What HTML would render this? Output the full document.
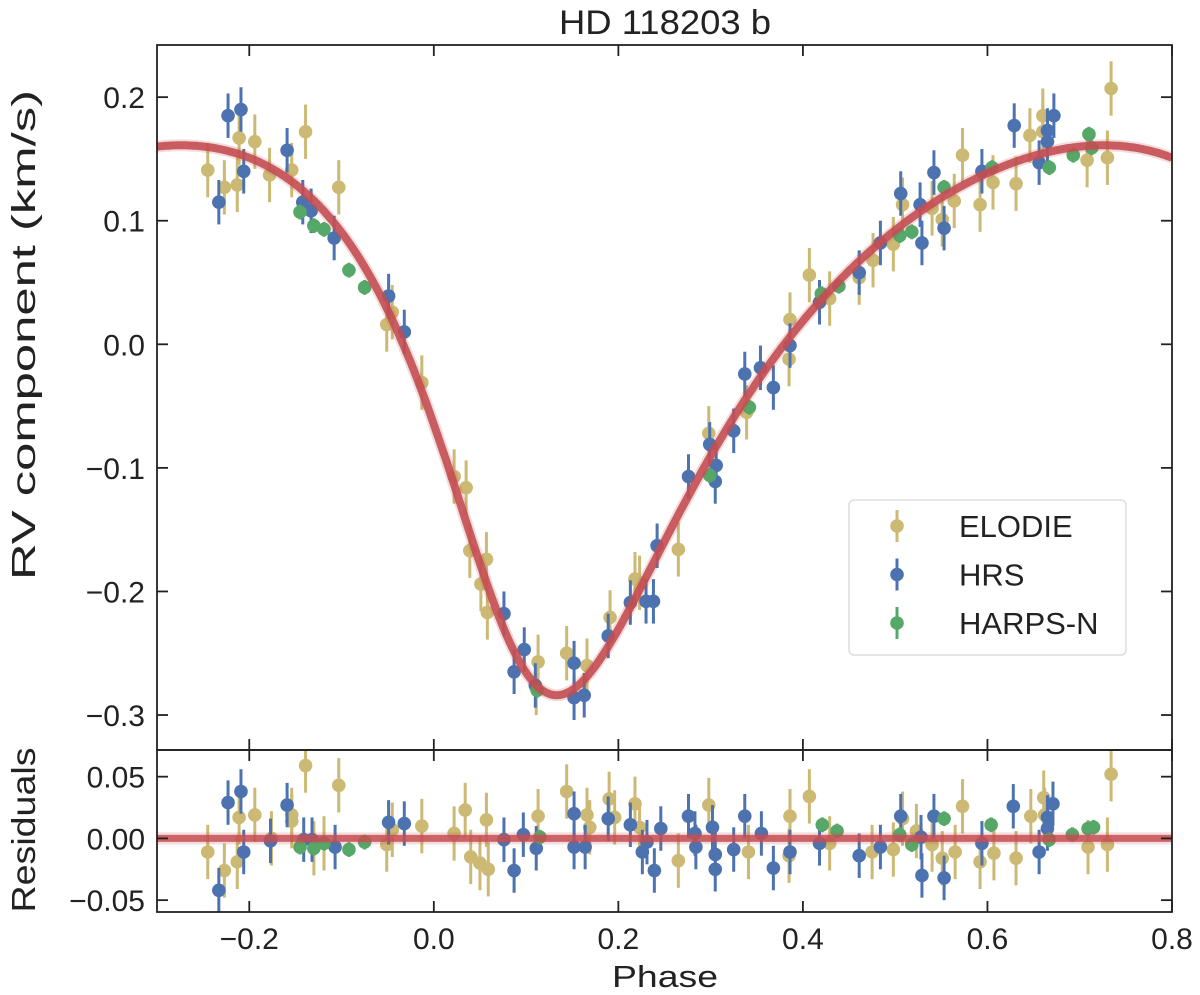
<!DOCTYPE html>
<html><head><meta charset="utf-8"><style>
body{margin:0;background:#fff}
svg{display:block;font-family:"Liberation Sans",sans-serif}
</style></head><body>
<svg id="chart" width="1200" height="995" xmlns="http://www.w3.org/2000/svg">
<defs>
<clipPath id="clipMain"><rect x="157" y="45" width="1015" height="705"/></clipPath>
<clipPath id="clipRes"><rect x="157" y="750" width="1015" height="162"/></clipPath>
</defs>
<text x="665" y="34" font-size="34" text-anchor="middle" fill="#222" textLength="212" lengthAdjust="spacingAndGlyphs">HD 118203 b</text>
<text transform="translate(35,335) rotate(-90)" font-size="33" text-anchor="middle" fill="#222" textLength="490" lengthAdjust="spacingAndGlyphs">RV component (km/s)</text>
<text transform="translate(35,830) rotate(-90)" font-size="33" text-anchor="middle" fill="#222" textLength="165" lengthAdjust="spacingAndGlyphs">Residuals</text>
<text x="665" y="987" font-size="31" text-anchor="middle" fill="#222" textLength="106" lengthAdjust="spacingAndGlyphs">Phase</text>
<g id="gMain" clip-path="url(#clipMain)"></g>
<g id="gRes" clip-path="url(#clipRes)"></g>
<g id="gAxes"></g>
<g id="gLegend"></g>
</svg>
<script>
// ---- data ----
const xTicks = [-0.2, 0.0, 0.2, 0.4, 0.6, 0.8];
const xTickLabels = ["\u22120.2", "0.0", "0.2", "0.4", "0.6", "0.8"];
const yTicks = [0.2, 0.1, 0.0, -0.1, -0.2, -0.3];
const yTickLabels = ["0.2", "0.1", "0.0", "\u22120.1", "\u22120.2", "\u22120.3"];
const resTicks = [0.05, 0.0, -0.05];
const resTickLabels = ["0.05", "0.00", "\u22120.05"];
const seriesNames = ["ELODIE", "HRS", "HARPS-N"];
const seriesErr = [0.022, 0.018, 0.006];

const elodiePhase = [-0.245,-0.227,-0.213,-0.211,-0.194,-0.178,-0.154,-0.139,-0.103,-0.051,-0.045,-0.013,0.022,0.035,0.039,0.051,0.057,0.058,0.113,0.111,0.144,0.166,0.191,0.218,0.223,0.265,0.298,0.339,0.386,0.385,0.407,0.429,0.461,0.476,0.498,0.508,0.540,0.551,0.564,0.573,0.592,0.606,0.631,0.646,0.660,0.660,0.708,0.730,0.734];
const elodieRV = [0.141,0.127,0.129,0.167,0.164,0.137,0.141,0.172,0.127,0.016,0.026,-0.031,-0.107,-0.116,-0.167,-0.194,-0.174,-0.217,-0.257,-0.278,-0.250,-0.260,-0.221,-0.190,-0.193,-0.166,-0.072,-0.055,0.020,-0.012,0.056,0.037,0.054,0.068,0.081,0.113,0.110,0.101,0.116,0.153,0.113,0.131,0.130,0.169,0.185,0.172,0.149,0.151,0.207];
const hrsPhase = [-0.233,-0.223,-0.209,-0.206,-0.159,-0.142,-0.133,-0.108,-0.049,-0.032,0.076,0.087,0.098,0.110,0.152,0.152,0.163,0.189,0.213,0.230,0.238,0.242,0.276,0.299,0.306,0.305,0.325,0.337,0.354,0.368,0.386,0.418,0.461,0.484,0.506,0.527,0.529,0.542,0.553,0.594,0.629,0.656,0.665,0.665,0.672];
const hrsRV = [0.115,0.185,0.190,0.140,0.157,0.115,0.108,0.086,0.039,0.010,-0.218,-0.265,-0.247,-0.276,-0.258,-0.286,-0.284,-0.236,-0.209,-0.208,-0.208,-0.163,-0.107,-0.081,-0.098,-0.111,-0.070,-0.024,-0.019,-0.035,-0.001,0.034,0.058,0.082,0.122,0.113,0.082,0.139,0.094,0.140,0.177,0.147,0.164,0.173,0.185];
const harpsPhase = [-0.145,-0.130,-0.119,-0.092,-0.075,0.112,0.299,0.342,0.420,0.439,0.505,0.518,0.553,0.605,0.667,0.693,0.710,0.713];
const harpsRV = [0.107,0.096,0.093,0.060,0.046,-0.280,-0.106,-0.051,0.041,0.047,0.088,0.091,0.127,0.143,0.143,0.153,0.170,0.159];

const elodieResPhase = [-0.245,-0.227,-0.213,-0.211,-0.194,-0.176,-0.154,-0.154,-0.139,-0.130,-0.119,-0.103,-0.051,-0.045,-0.013,0.022,0.034,0.040,0.050,0.057,0.059,0.113,0.144,0.166,0.169,0.190,0.196,0.218,0.223,0.265,0.298,0.341,0.386,0.385,0.407,0.429,0.475,0.498,0.508,0.523,0.540,0.551,0.565,0.573,0.592,0.607,0.631,0.647,0.661,0.662,0.709,0.730,0.734];
const elodieRes = [-0.011,-0.026,-0.019,0.017,0.019,0.0,0.019,0.014,0.059,-0.008,-0.004,0.043,-0.005,0.007,0.010,0.004,0.023,-0.015,-0.020,0.015,-0.025,0.018,0.038,0.019,0.009,0.032,0.017,0.028,0.009,-0.018,0.027,-0.011,0.018,-0.014,0.034,-0.004,-0.011,-0.009,0.016,0.006,-0.005,-0.016,-0.011,0.026,-0.019,-0.012,-0.016,0.018,0.033,0.019,-0.007,-0.005,0.052];
const hrsResPhase = [-0.233,-0.223,-0.209,-0.206,-0.177,-0.159,-0.141,-0.132,-0.107,-0.049,-0.032,0.076,0.087,0.097,0.111,0.152,0.152,0.164,0.189,0.213,0.226,0.231,0.239,0.246,0.276,0.283,0.284,0.302,0.305,0.305,0.325,0.337,0.355,0.368,0.386,0.418,0.461,0.484,0.506,0.528,0.529,0.542,0.553,0.594,0.628,0.656,0.665,0.665,0.671];
const hrsRes = [-0.042,0.029,0.038,-0.011,-0.002,0.027,-0.001,-0.001,-0.007,0.013,0.012,-0.001,-0.026,0.003,-0.008,0.020,-0.007,-0.007,0.016,0.011,-0.011,-0.003,-0.026,0.008,0.018,0.004,-0.007,0.009,-0.013,-0.025,-0.009,0.018,0.004,-0.024,-0.011,-0.004,-0.014,-0.007,0.018,0.001,-0.030,0.018,-0.032,-0.004,0.026,-0.011,0.008,0.017,0.028];
const harpsResPhase = [-0.145,-0.130,-0.119,-0.092,-0.075,0.115,0.421,0.437,0.505,0.518,0.553,0.604,0.667,0.692,0.709,0.715];
const harpsRes = [-0.007,-0.008,-0.004,-0.009,-0.003,0.001,0.011,0.006,0.003,-0.005,0.016,0.011,-0.001,0.003,0.008,0.009];

// Keplerian model parameters
const modelK = 0.2225, modelE = 0.31, modelOmegaDeg = 153, modelTp = 0.095;

// ---- layout ----
const X0=157, X1=1172, xmin=-0.3, xmax=0.8;
const MY0=45, MY1=750, mymin=-0.3283, mymax=0.2422;
const RY0=750, RY1=912, rymin=-0.0596, rymax=0.0716;
const colors=["#ccb974","#4c72b0","#55a868"];
const NS="http://www.w3.org/2000/svg";
function sx(p){return X0+(p-xmin)/(xmax-xmin)*(X1-X0);}
function sy(v){return MY1-(v-mymin)/(mymax-mymin)*(MY1-MY0);}
function ry(v){return RY1-(v-rymin)/(rymax-rymin)*(RY1-RY0);}
function mk(tag,attrs,parent){const e=document.createElementNS(NS,tag);for(const k in attrs)e.setAttribute(k,attrs[k]);parent.appendChild(e);return e;}
function model(p){
  const w=modelOmegaDeg*Math.PI/180;
  let M=2*Math.PI*(p-modelTp);
  let E=M;for(let i=0;i<40;i++)E=E-(E-modelE*Math.sin(E)-M)/(1-modelE*Math.cos(E));
  const nu=2*Math.atan2(Math.sqrt(1+modelE)*Math.sin(E/2),Math.sqrt(1-modelE)*Math.cos(E/2));
  return modelK*(Math.cos(nu+w)+modelE*Math.cos(w));
}
const gMain=document.getElementById('gMain'), gRes=document.getElementById('gRes'), gAxes=document.getElementById('gAxes'), gLeg=document.getElementById('gLegend');

function drawPoints(g, ph, vals, err, ci, scale, nm){
  for(let i=0;i<ph.length;i++){
    const x=sx(ph[i]);
    const l=mk('line',{x1:x,x2:x,y1:scale(vals[i]-err),y2:scale(vals[i]+err),stroke:colors[ci],'stroke-width':3},g);
    
    
    const c=mk('circle',{cx:x,cy:scale(vals[i]),r:6.8,fill:colors[ci]},g);
    
    
  }
}
drawPoints(gMain,elodiePhase,elodieRV,seriesErr[0],0,sy,'elodie');
drawPoints(gMain,hrsPhase,hrsRV,seriesErr[1],1,sy,'hrs');
drawPoints(gMain,harpsPhase,harpsRV,seriesErr[2],2,sy,'harps-n');
drawPoints(gRes,elodieResPhase,elodieRes,seriesErr[0],0,ry,'elodie-residual');
drawPoints(gRes,hrsResPhase,hrsRes,seriesErr[1],1,ry,'hrs-residual');
drawPoints(gRes,harpsResPhase,harpsRes,seriesErr[2],2,ry,'harps-n-residual');

// model curves
let d='';
for(let i=0;i<=440;i++){const p=xmin+(xmax-xmin)*i/440;d+=(i?'L':'M')+sx(p).toFixed(1)+','+sy(model(p)).toFixed(1);}
const band=mk('path',{d:d,fill:'none',stroke:'#c44e52','stroke-opacity':0.2,'stroke-width':12},gMain);


const mline=mk('path',{d:d,fill:'none',stroke:'#c44e52','stroke-opacity':0.9,'stroke-width':8},gMain);


const rb=mk('line',{x1:X0,x2:X1,y1:ry(0),y2:ry(0),stroke:'#c44e52','stroke-opacity':0.2,'stroke-width':12},gRes);


const rl=mk('line',{x1:X0,x2:X1,y1:ry(0),y2:ry(0),stroke:'#c44e52','stroke-opacity':0.85,'stroke-width':7},gRes);



// axes frames
const f1=mk('rect',{x:X0,y:MY0,width:X1-X0,height:MY1-MY0,fill:'none',stroke:'#222','stroke-width':1.8},gAxes);


const f2=mk('rect',{x:X0,y:RY0,width:X1-X0,height:RY1-RY0,fill:'none',stroke:'#222','stroke-width':1.8},gAxes);


xTicks.forEach((t,i)=>{
  const x=sx(t);
  [[MY0,MY0+11],[MY1,MY1-11],[RY0,RY0+11],[RY1,RY1-11]].forEach(([a,b])=>{
    const l=mk('line',{x1:x,x2:x,y1:a,y2:b,stroke:'#222','stroke-width':1.8},gAxes);
    
    
  });
  const tx=mk('text',{x:x,y:949,'font-size':30,'text-anchor':'middle',fill:'#222'},gAxes);
  tx.textContent=xTickLabels[i];
  
  
});
yTicks.forEach((t,i)=>{
  const y=sy(t);
  [[X0,X0+11],[X1,X1-11]].forEach(([a,b])=>{
    const l=mk('line',{x1:a,x2:b,y1:y,y2:y,stroke:'#222','stroke-width':1.8},gAxes);
    
    
  });
  const tx=mk('text',{x:145,y:y+11,'font-size':30,'text-anchor':'end',fill:'#222'},gAxes);
  tx.textContent=yTickLabels[i];
  
  
});
resTicks.forEach((t,i)=>{
  const y=ry(t);
  [[X0,X0+11],[X1,X1-11]].forEach(([a,b])=>{
    const l=mk('line',{x1:a,x2:b,y1:y,y2:y,stroke:'#222','stroke-width':1.8},gAxes);
    
    
  });
  const tx=mk('text',{x:145,y:y+11,'font-size':30,'text-anchor':'end',fill:'#222'},gAxes);
  tx.textContent=resTickLabels[i];
  
  
});

// legend
const lb=mk('rect',{x:849,y:500,width:277,height:155,rx:5,fill:'#fff','fill-opacity':0.85,stroke:'#ddd','stroke-width':1.5},gLeg);


seriesNames.forEach((n,i)=>{
  const y=526+i*48.5;
  const l=mk('line',{x1:897,x2:897,y1:y-16,y2:y+16,stroke:colors[i],'stroke-width':3},gLeg);
  
  
  const c=mk('circle',{cx:897,cy:y,r:6.8,fill:colors[i]},gLeg);
  
  
  const t=mk('text',{x:959,y:y+11,'font-size':31,fill:'#222'},gLeg);
  t.textContent=n;
  
  
});
</script>
</body></html>
